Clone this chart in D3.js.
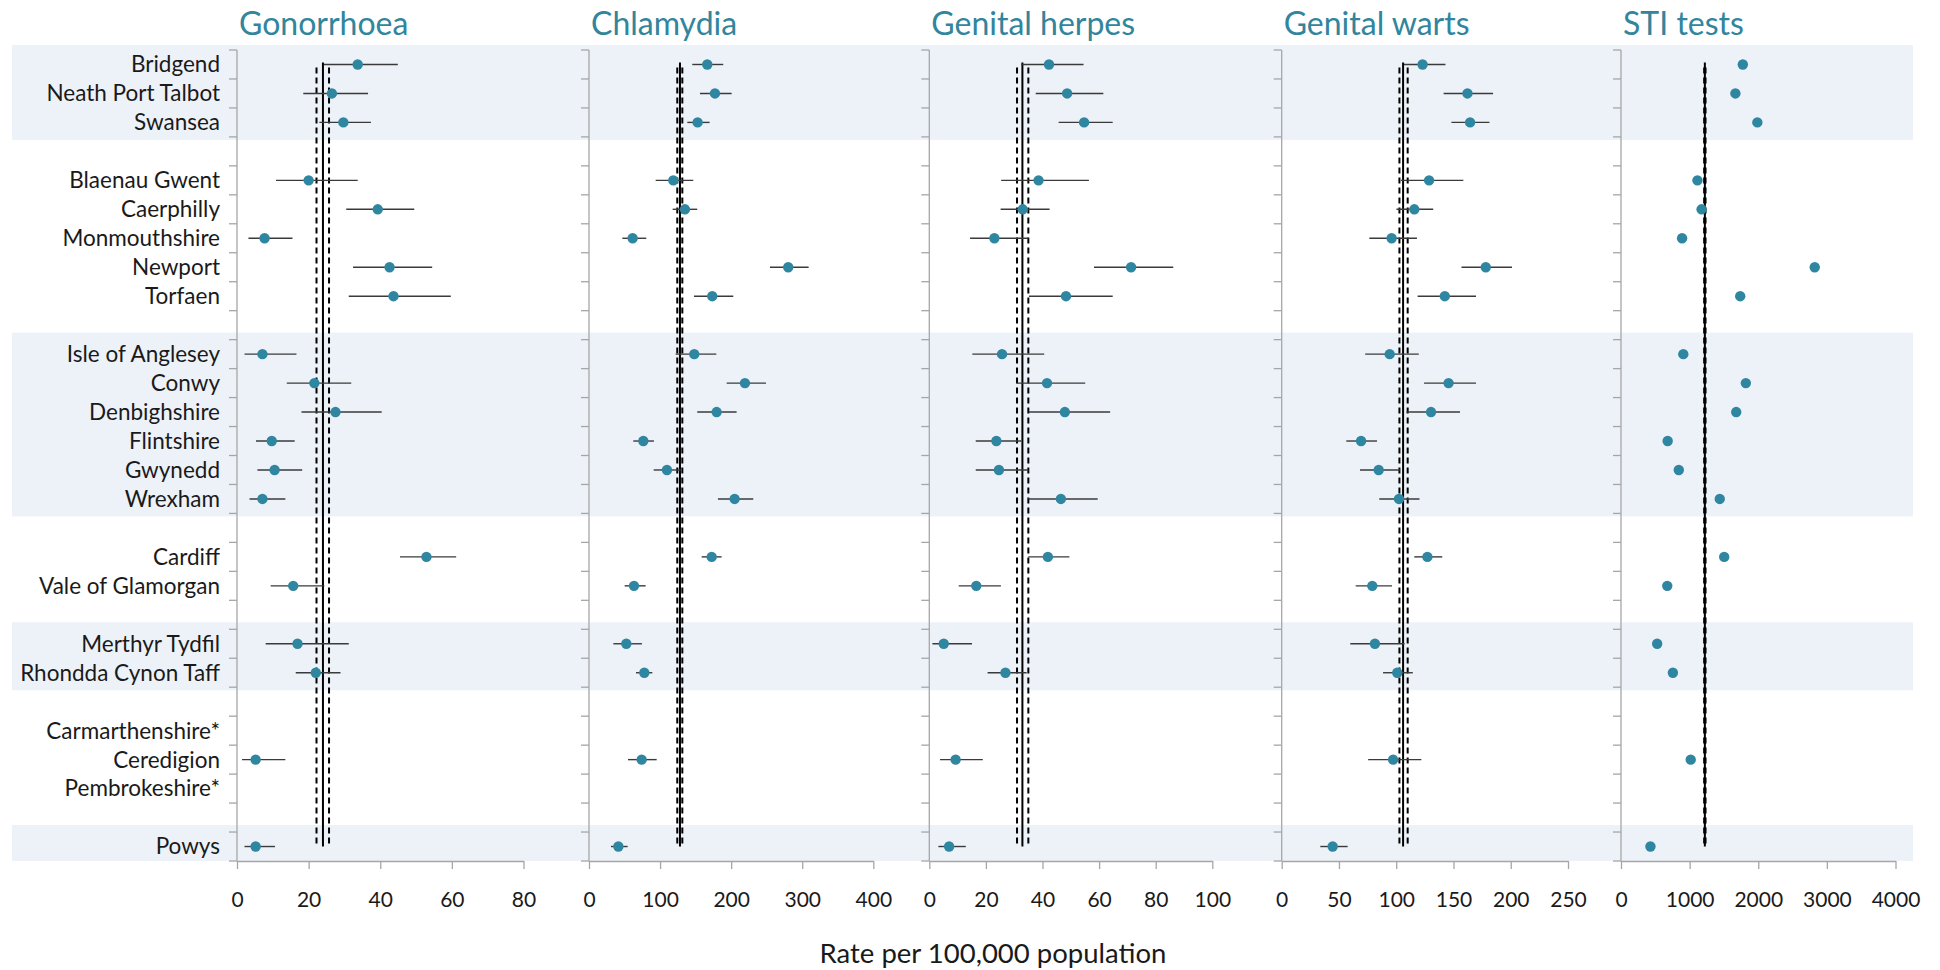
<!DOCTYPE html>
<html><head><meta charset="utf-8">
<script src="https://cdnjs.cloudflare.com/ajax/libs/d3/7.8.5/d3.min.js"></script>
<style>body{margin:0;background:#fff;} svg{display:block;}</style>
</head><body><svg id="chart" width="1940" height="970"></svg>
<script>
// ---------------- DATA ----------------
const areas = ["Bridgend","Neath Port Talbot","Swansea",
  "Blaenau Gwent","Caerphilly","Monmouthshire","Newport","Torfaen",
  "Isle of Anglesey","Conwy","Denbighshire","Flintshire","Gwynedd","Wrexham",
  "Cardiff","Vale of Glamorgan",
  "Merthyr Tydfil","Rhondda Cynon Taff",
  "Carmarthenshire*","Ceredigion","Pembrokeshire*",
  "Powys"];
const groupSizes = [3,5,6,2,2,3,1];
const shadedGroups = [0,2,4,6];

const panelTitles = ["Gonorrhoea","Chlamydia","Genital herpes","Genital warts","STI tests"];
const xAxisTitle = "Rate per 100,000 population";

const gonRate = [33.7,26.5,29.7,20.0,39.3,7.7,42.6,43.7,7.1,21.6,27.5,9.7,10.5,7.1,52.9,15.7,16.9,22.0,null,5.2,null,5.2];
const gonLo   = [24.3,18.5,23.0,10.9,30.5,3.2,32.4,31.2,2.1,13.9,18.0,5.3,5.7,3.5,45.5,9.4,8.0,16.4,null,1.4,null,2.1];
const gonHi   = [44.9,36.6,37.4,33.7,49.5,15.5,54.5,59.7,16.6,31.9,40.4,16.1,18.2,13.5,61.2,24.4,31.2,28.9,null,13.5,null,10.6];
const gonWales = [24.0,22.2,25.7];
const gonTicks = [0,20,40,60,80];

const chlRate = [166.4,177.2,152.8,118.6,135.0,61.4,280.3,173.4,148.1,219.4,179.6,76.4,109.7,204.9,172.6,63.3,52.5,77.8,null,74.1,null,41.3];
const chlLo   = [145.3,156.1,138.3,93.8,117.7,46.9,254.6,147.7,121.9,193.7,152.3,62.3,91.0,181.4,158.5,50.2,34.2,66.1,null,54.9,null,30.9];
const chlHi   = [188.9,200.7,169.7,146.7,152.3,80.6,309.0,203.0,179.1,249.0,207.7,91.4,129.0,231.1,186.6,79.7,74.5,89.1,null,95.2,null,54.4];
const chlWales = [128.0,124.2,131.3];
const chlTicks = [0,100,200,300,400];

const herRate = [42.3,48.7,54.7,38.6,33.0,23.0,71.3,48.3,25.7,41.6,47.9,23.7,24.6,46.5,41.9,16.6,5.1,26.9,null,9.3,null,7.0];
const herLo   = [32.4,37.6,45.7,25.4,25.2,14.4,58.2,35.2,15.2,30.9,35.1,16.4,16.4,35.0,35.0,10.4,1.1,20.6,null,3.8,null,3.2];
const herHi   = [54.5,61.5,64.8,56.4,42.5,35.0,86.2,64.8,40.6,55.1,63.9,32.5,35.0,59.5,49.5,25.3,15.1,34.4,null,18.9,null,12.9];
const herWales = [32.9,31.0,35.0];
const herTicks = [0,20,40,60,80,100];

const wrtRate = [123.0,162.2,164.5,128.7,115.8,96.0,178.2,142.4,94.3,145.7,130.4,69.3,84.7,102.4,127.2,79.1,81.4,100.9,null,97.3,null,44.5];
const wrtLo   = [106.7,141.4,148.2,104.1,100.2,76.5,157.0,118.7,72.9,124.3,109.0,56.4,68.4,85.2,115.8,64.6,59.9,88.5,null,75.5,null,33.7];
const wrtHi   = [143.0,184.6,181.4,158.6,132.3,118.1,201.1,169.7,119.7,169.7,155.7,83.2,103.1,120.3,140.2,96.3,107.3,114.5,null,121.9,null,57.6];
const wrtWales = [106.0,102.8,110.0];
const wrtTicks = [0,50,100,150,200,250];

const stiRate = [1775,1667,1987,1114,1174,890,2823,1737,908,1819,1679,680,842,1439,1504,674,527,756,null,1016,null,429];
const stiLo   = [1725,1620,1940,1075,1130,855,2760,1690,870,1770,1630,645,805,1400,1475,645,495,725,null,975,null,400];
const stiHi   = [1825,1715,2035,1155,1220,925,2890,1785,945,1870,1730,715,880,1480,1535,705,560,790,null,1060,null,460];
const stiWales = [1222,1212,1232];
const stiTicks = [0,1000,2000,3000,4000];

// ---------------- LAYOUT ----------------
const FONT = "Lato, 'Open Sans', sans-serif";
const TEAL = "#31859c";
const DOT = "#2f86a0";
const GRID = "#a6a6a6";
const BAND = "#edf2f9";
const plotTop = 50, plotBottom = 861;
const panelRanges = [[237,523.5],[589,873.3],[929.3,1212.3],[1281.7,1568],[1621,1895.5]];

const panels = [
  {title:panelTitles[0], rate:gonRate, lo:gonLo, hi:gonHi, wales:gonWales, ticks:gonTicks},
  {title:panelTitles[1], rate:chlRate, lo:chlLo, hi:chlHi, wales:chlWales, ticks:chlTicks},
  {title:panelTitles[2], rate:herRate, lo:herLo, hi:herHi, wales:herWales, ticks:herTicks},
  {title:panelTitles[3], rate:wrtRate, lo:wrtLo, hi:wrtHi, wales:wrtWales, ticks:wrtTicks},
  {title:panelTitles[4], rate:stiRate, lo:stiLo, hi:stiHi, wales:stiWales, ticks:stiTicks}
];

// row index of each area (blank row between groups)
const rowOf = [], groupRows = [];
let rr = 0;
groupSizes.forEach(n => { groupRows.push([rr, rr+n-1]); for (let k=0;k<n;k++) rowOf.push(rr++); rr++; });
const nRows = rr - 1;

const y = d3.scaleBand().domain(d3.range(nRows)).range([plotTop, plotBottom]);
const bw = y.bandwidth();
const yc = i => y(i) + bw/2;

const svg = d3.select("#chart");

// shaded bands
const bandTop = g => Math.max(plotTop-5, y(groupRows[g][0]) - 7);
const bandBot = g => Math.min(plotBottom, y(groupRows[g][1]) + bw + 3);
svg.append("g").selectAll("rect").data(shadedGroups).join("rect")
  .attr("x", 12).attr("width", 1913-12)
  .attr("y", g => bandTop(g))
  .attr("height", g => bandBot(g) - bandTop(g))
  .attr("fill", BAND);

// category labels
svg.append("g").selectAll("text").data(areas).join("text")
  .attr("x", 220).attr("y", (d,i) => yc(rowOf[i])).attr("dy","0.35em")
  .attr("text-anchor","end")
  .style("font-family", FONT).style("font-size","22.5px").attr("fill","#1a1a1a")
  .text(d => d);

panels.forEach((p, pi) => {
  const [x0, x1] = panelRanges[pi];
  const x = d3.scaleLinear().domain([p.ticks[0], p.ticks[p.ticks.length-1]]).range([x0, x1]);
  const g = svg.append("g");

  // title
  g.append("text").attr("x", x0 + 2).attr("y", 35)
    .style("font-family", FONT).style("font-size","32px").attr("fill", TEAL)
    .text(p.title);

  // y axis line and ticks
  g.append("line").attr("x1", x0).attr("x2", x0).attr("y1", plotTop).attr("y2", plotBottom)
    .attr("stroke", GRID).attr("stroke-width", 1.3);
  g.append("g").selectAll("line").data(d3.range(nRows+1)).join("line")
    .attr("x1", x0-8).attr("x2", x0)
    .attr("y1", i => i < nRows ? y(i) : plotBottom).attr("y2", i => i < nRows ? y(i) : plotBottom)
    .attr("stroke", GRID).attr("stroke-width", 1.3);

  // x axis
  const ax = g.append("g").attr("transform", `translate(0,${plotBottom})`)
    .call(d3.axisBottom(x).tickValues(p.ticks).tickSize(8).tickSizeOuter(0).tickPadding(23).tickFormat(d3.format("d")));
  ax.select(".domain").attr("stroke", GRID).attr("stroke-width", 1.3);
  ax.selectAll(".tick line").attr("stroke", GRID).attr("stroke-width", 1.3);
  ax.selectAll(".tick text").style("font-family", FONT).style("font-size","21px").attr("fill","#1a1a1a");

  // Wales reference lines
  const yTop = yc(0), yBot = yc(nRows-1);
  g.append("line").attr("x1", x(p.wales[0])).attr("x2", x(p.wales[0])).attr("y1", yTop - 2).attr("y2", yBot)
    .attr("stroke","#000").attr("stroke-width", 2);
  [p.wales[1], p.wales[2]].forEach(v => {
    g.append("line").attr("x1", x(v)).attr("x2", x(v)).attr("y1", yTop + 3).attr("y2", yBot)
      .attr("stroke","#000").attr("stroke-width", 2).attr("stroke-dasharray","6,4");
  });

  const pts = areas.map((a,i) => ({row: rowOf[i], v: p.rate[i], lo: p.lo[i], hi: p.hi[i]})).filter(d => d.v != null);

  // CI bars
  g.append("g").selectAll("line").data(pts).join("line")
    .attr("x1", d => x(d.lo)).attr("x2", d => x(d.hi))
    .attr("y1", d => yc(d.row)).attr("y2", d => yc(d.row))
    .attr("stroke","#3a3a3a").attr("stroke-width", 1.4);

  // dots
  g.append("g").selectAll("circle").data(pts).join("circle")
    .attr("cx", d => x(d.v)).attr("cy", d => yc(d.row)).attr("r", 5.2)
    .attr("fill", DOT);
});

// x axis title
svg.append("text").attr("x", 993).attr("y", 963).attr("text-anchor","middle")
  .style("font-family", FONT).style("font-size","27.5px").attr("fill","#1a1a1a")
  .text(xAxisTitle);
</script>
</body></html>
